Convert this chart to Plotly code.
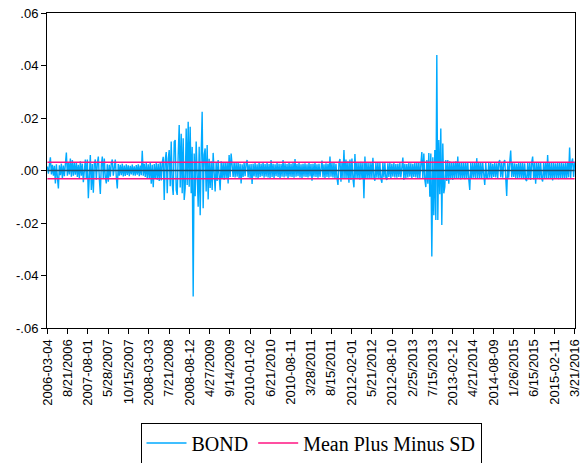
import plotly.graph_objects as go

# BOND daily returns (units: thousandths), one value per pixel column
bond_thousandths = [
    1.5, -1.2, 2.0, 5.0, -1.5, 2.2, -2.0, 1.8, -4.9, 2.4,
    -2.5, -6.8, 2.0, -1.8, 2.6, -3.0, 1.9, -2.2, 2.5, 6.8,
    -2.0, 3.0, -1.5, 4.6, -2.4, 4.0, -2.0, 2.8, -1.6, 3.2,
    -2.5, 2.2, -3.0, 3.5, -2.0, 2.6, -4.5, 2.4, 4.2, -3.0,
    4.2, -10.6, -3.0, 5.9, -7.4, 2.5, -8.5, 2.6, 4.2, -3.5,
    2.5, 5.3, -3.0, -8.9, 2.0, 5.3, -2.8, 4.6, -2.5, -4.9,
    2.4, -4.3, 2.2, -2.4, 2.8, 4.2, -2.0, 2.6, 4.2, -2.4,
    -6.8, 2.5, -2.0, 2.2, -1.8, 2.6, -2.3, 1.9, -2.1, 2.4,
    -1.7, 2.0, -2.2, 1.8, -1.5, 2.3, -1.9, 1.6, -2.0, 2.1,
    -1.6, 2.4, -2.2, 1.9, -1.8, 7.5, -2.0, 2.6, -2.5, 2.8,
    -3.0, 2.4, -2.8, 3.0, -5.0, 2.2, -6.4, 2.5, -3.2, 2.8,
    -3.5, 2.6, -4.0, 3.2, -3.8, 3.0, 5.2, -11.2, 4.0, 7.0,
    -8.7, 4.5, 7.8, -6.0, 11.0, -5.0, -9.3, 11.0, 11.6, -7.4,
    -9.3, 6.0, 17.3, -6.5, 14.0, -8.7, 12.3, -11.2, -6.7, 16.0,
    -5.5, 18.6, -6.2, 16.7, -8.7, 9.0, -48.0, 6.5, -9.8, 11.0,
    -8.0, -13.8, 9.0, -17.0, 6.0, 22.4, -14.4, 6.0, 8.4, -8.0,
    9.7, -11.0, 4.5, -6.7, 3.5, -7.4, 6.7, -3.5, -8.0, 3.0,
    -4.0, 4.0, -3.0, -7.5, 3.5, -3.2, 3.0, -3.5, 3.2, -2.8,
    3.0, -4.9, 5.9, -2.5, 6.5, 2.8, -2.5, 3.2, -2.6, 2.8,
    -2.4, 3.0, -3.0, 2.6, -4.9, 2.4, -2.5, 2.9, -2.2, 2.5,
    4.0, -2.6, 2.4, -2.8, 2.5, -5.1, 2.6, -2.3, 2.8, -2.6,
    2.4, -2.9, 3.0, -2.5, 2.6, -2.2, 3.1, -2.7, 2.5, -2.4,
    2.9, -2.6, 2.5, -2.8, 4.0, -2.5, 2.6, -3.0, 2.4, -2.2,
    2.8, -2.5, 2.6, -2.9, 2.5, -2.4, 4.0, -2.6, 2.7, -2.3,
    2.5, -2.8, 2.9, -2.4, 2.6, -2.5, 2.8, -2.7, 4.4, -2.4,
    2.5, -2.2, 2.8, -2.6, 2.4, -2.8, 2.6, -2.4, 2.7, -2.5,
    2.4, -2.6, 2.8, -2.3, 2.5, -3.9, 2.6, -2.4, 2.9, -2.5,
    2.4, -2.7, 2.6, -2.4, 2.5, 3.8, -2.6, 2.4, -2.8, 2.7,
    -2.5, 2.6, -2.7, 5.3, -2.4, 2.8, -2.6, 2.9, -3.0, 2.6,
    -2.8, -5.5, 2.8, 4.4, -4.3, 3.0, -3.0, 7.8, -3.2, 4.2,
    -3.0, 3.5, -4.7, 4.2, -3.6, 4.6, -3.0, -6.4, 6.3, -3.0,
    3.2, -3.2, 3.0, -3.5, 3.3, -3.0, 3.0, -10.6, 5.3, -3.0,
    3.2, -3.0, 2.8, -3.2, 3.0, -2.8, 4.8, -2.6, -3.9, 3.0,
    -2.7, 3.0, -3.0, 2.8, -3.2, -4.7, 3.0, -2.6, 2.8, -2.9,
    -3.6, 2.7, -2.5, 2.9, -2.8, 2.6, -2.4, 2.8, -2.6, 2.5,
    -2.7, 2.6, -2.5, 2.8, -2.6, 2.9, 4.9, -3.6, 2.6, -2.8,
    2.5, -2.6, 2.8, -2.4, 2.7, -2.9, 2.6, -2.5, 2.8, -2.6,
    2.9, -3.0, 3.2, -2.8, 3.4, 7.0, -3.2, 6.5, -3.5, -6.3,
    4.0, -5.0, 6.7, -10.0, 6.5, -32.8, 5.0, -17.0, 7.8, -18.9,
    44.0, -18.9, 11.6, -9.0, 16.0, -20.8, 10.3, -8.7, -6.3, 4.0,
    -4.0, 4.0, -5.0, 3.5, -3.4, 3.2, -3.6, 3.3, -3.0, 3.5,
    -3.2, 5.3, -3.0, 3.2, -3.4, 3.0, -3.2, 2.9, -3.3, 3.1,
    -2.8, 3.0, -3.2, -7.4, 2.9, -3.1, 3.0, -2.7, 2.8, -3.0,
    4.7, -2.9, 3.0, -2.8, 3.1, -3.0, 2.8, -2.9, -5.5, 3.0,
    -2.8, -3.0, 2.9, -2.7, 3.0, -2.8, 2.6, -2.5, 2.9, -2.6,
    2.7, -2.8, 3.0, 4.0, -2.6, 2.8, -2.7, 2.9, 4.0, -2.5,
    -9.7, 2.8, -2.7, 3.0, 7.6, -2.6, 2.9, -2.5, 2.7, -2.8,
    2.6, -2.9, 3.0, -2.7, 2.8, -3.0, 2.9, -3.2, 2.7, -3.4,
    -4.0, 2.8, -3.3, 3.0, -3.6, 2.9, 5.3, -3.4, 3.0, -5.0,
    2.8, -3.2, 3.0, -3.3, 2.9, -3.0, -4.2, 3.1, -3.0, 2.8,
    -3.1, 5.9, -3.0, 2.9, -3.2, 2.8, -3.8, 3.0, -2.9, 2.7,
    -3.0, 2.9, -3.3, 2.8, -3.0, 3.0, -2.8, 2.7, -3.1, 2.9,
    -3.0, 3.2, -2.6, 8.8, -2.8, 3.0, 4.6, -2.5, 3.3,
]

mean_thousandths = 0.0
sd_thousandths = 3.12

date_labels = [
    "2006-03-04", "8/21/2006", "2007-08-01", "5/28/2007", "10/15/2007",
    "2008-03-03", "7/21/2008", "2008-08-12", "4/27/2009", "9/14/2009",
    "2010-01-02", "6/21/2010", "2010-08-11", "3/28/2011", "8/15/2011",
    "2012-02-01", "5/21/2012", "2012-08-10", "2/25/2013", "7/15/2013",
    "2013-02-12", "4/21/2014", "2014-08-09", "1/26/2015", "6/15/2015",
    "2015-02-11", "3/21/2016",
]

y_tick_vals = [-60, -40, -20, 0, 20, 40, 60]
y_tick_text = ["-.06", "-.04", "-.02", ".00", ".02", ".04", ".06"]

n = len(bond_thousandths)
obs = list(range(n))
last = n - 1
x_tick_vals = [last * k / (len(date_labels) - 1) for k in range(len(date_labels))]

upper = mean_thousandths + sd_thousandths
lower = mean_thousandths - sd_thousandths

fig = go.Figure()
fig.add_trace(go.Scatter(
    x=obs, y=bond_thousandths, mode="lines", name="BOND",
    line=dict(color="rgb(0,170,255)", width=1.4),
    hoverinfo="skip",
))
fig.add_trace(go.Scatter(
    x=[0, last, None, 0, last], y=[upper, upper, None, lower, lower],
    mode="lines", name="Mean Plus Minus SD",
    line=dict(color="rgb(255,20,130)", width=1.6),
    hoverinfo="skip",
))
fig.add_shape(type="line", xref="x", yref="y", x0=0, x1=last, y0=0, y1=0,
              line=dict(color="rgb(30,80,110)", width=1.6), layer="above")

fig.update_layout(
    width=582, height=463,
    margin=dict(l=47, r=7, t=13, b=135, autoexpand=False),
    paper_bgcolor="white", plot_bgcolor="white",
    font=dict(family="Liberation Sans, Arial", size=13, color="black"),
    showlegend=True,
    legend=dict(
        orientation="h", x=0.5, xanchor="center", y=-0.30, yanchor="top",
        font=dict(family="Liberation Serif, Times New Roman", size=20, color="black"),
        bordercolor="black", borderwidth=1, bgcolor="white",
        itemwidth=40,
    ),
)
fig.update_xaxes(
    range=[-0.4, last + 0.4], tickmode="array", tickvals=x_tick_vals, ticktext=date_labels,
    tickangle=-90, ticks="outside", ticklen=5, tickcolor="black",
    showline=True, linecolor="black", linewidth=1, mirror=True,
    showgrid=False, zeroline=False, automargin=False, ticklabeloverflow="allow",
    tickfont=dict(family="Liberation Sans, Arial", size=13, color="black"),
)
fig.update_yaxes(
    range=[-60, 60], tickmode="array", tickvals=y_tick_vals, ticktext=y_tick_text,
    ticks="outside", ticklen=5, tickcolor="black",
    showline=True, linecolor="black", linewidth=1, mirror=True,
    showgrid=False, zeroline=False, automargin=False, ticklabeloverflow="allow",
    tickfont=dict(family="Liberation Sans, Arial", size=13, color="black"),
)

# remove the browser's default body margin so the figure sits at the page corner
fig.write_html("out.html", config={"displayModeBar": False, "staticPlot": True},
               post_script="document.body.style.margin='0px';")
